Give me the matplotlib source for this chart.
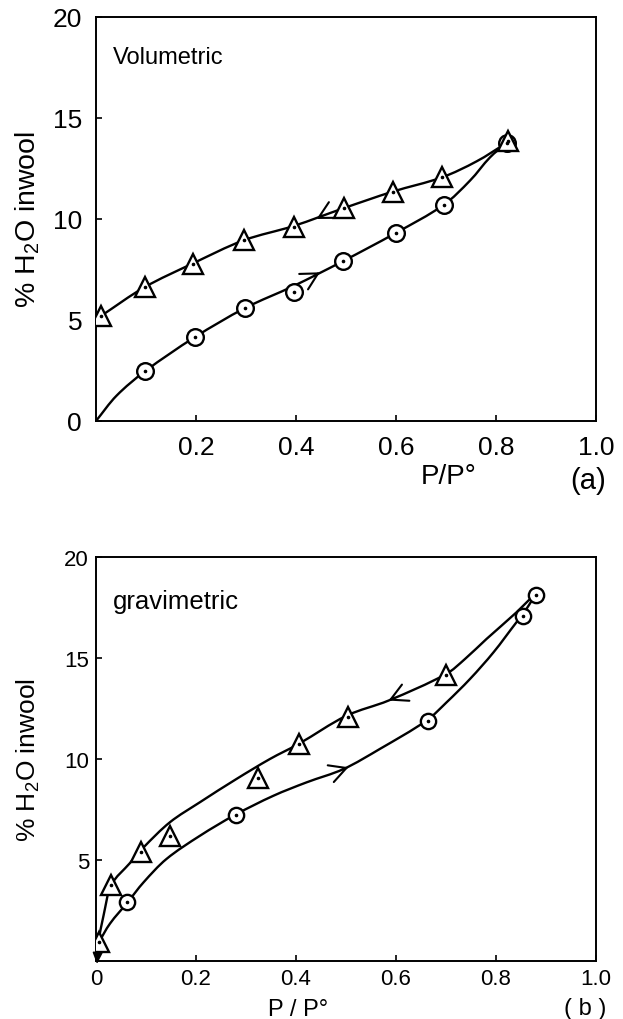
import numpy as np
import matplotlib
matplotlib.use("Agg")
import matplotlib.pyplot as plt
from matplotlib.path import Path
from matplotlib.patches import PathPatch

plt.rcParams['font.family'] = ['Liberation Sans', 'DejaVu Sans']
plt.rcParams['mathtext.fontset'] = 'custom'
plt.rcParams['mathtext.rm'] = 'Liberation Sans'

# ---- panel (a): volumetric ----
a_ads_p = [0.098, 0.197, 0.298, 0.395, 0.493, 0.599, 0.695, 0.821]
a_ads_v = [2.46, 4.14, 5.59, 6.40, 7.90, 9.30, 10.69, 13.76]
a_des_p = [0.010, 0.097, 0.193, 0.295, 0.395, 0.495, 0.593, 0.692, 0.823]
a_des_v = [5.20, 6.62, 7.79, 8.94, 9.59, 10.53, 11.35, 12.06, 13.88]

# curves
a_ads_curve_p = [0.0, 0.041, 0.098, 0.197, 0.298, 0.395, 0.493, 0.599, 0.695, 0.748, 0.788, 0.821]
a_ads_curve_v = [0.0, 1.25, 2.46, 4.14, 5.59, 6.68, 7.90, 9.30, 10.69, 11.90, 13.05, 13.76]
a_des_curve_p = [0.010, 0.097, 0.193, 0.295, 0.395, 0.495, 0.593, 0.692, 0.761, 0.821]
a_des_curve_v = [5.20, 6.62, 7.79, 8.94, 9.65, 10.53, 11.35, 12.06, 12.85, 13.76]

# ---- panel (b): gravimetric ----
b_ads_p = [0.062, 0.279, 0.663, 0.853, 0.879]
b_ads_v = [2.92, 7.23, 11.90, 17.09, 18.14]
b_des_p = [0.005, 0.030, 0.090, 0.148, 0.323, 0.405, 0.503, 0.700]
b_des_v = [0.94, 3.78, 5.41, 6.20, 9.04, 10.74, 12.10, 14.15]

b_ads_curve_p = [0.005, 0.028, 0.063, 0.095, 0.141, 0.208, 0.278, 0.355, 0.421, 0.495,
                 0.568, 0.661, 0.701, 0.748, 0.795, 0.841, 0.853, 0.879]
b_ads_curve_v = [0.90, 1.85, 2.90, 3.89, 5.05, 6.20, 7.23, 8.18, 8.84, 9.50,
                 10.50, 11.90, 12.80, 13.96, 15.28, 16.77, 17.13, 18.14]
b_des_curve_p = [0.004, 0.015, 0.031, 0.068, 0.095, 0.148, 0.208, 0.281, 0.348,
                 0.405, 0.501, 0.585, 0.700, 0.738, 0.781, 0.841, 0.868, 0.879]
b_des_curve_v = [0.90, 2.24, 3.78, 4.85, 5.62, 6.87, 7.86, 9.01, 10.00,
                 10.74, 12.14, 12.89, 14.20, 14.95, 15.94, 17.26, 17.92, 18.14]

# direction arrows: (p, v, +1 right / -1 left)
a_arrows = [(0.441, 10.00, -1), (0.448, 7.36, 1)]
b_arrows = [(0.585, 12.89, -1), (0.505, 9.59, 1)]

y_ticks = [0, 5, 10, 15, 20]
x_ticks = [0.2, 0.4, 0.6, 0.8, 1.0]


def smooth_curve(ax, px, py):
    """Smooth line through traced points: cubic Hermite with chord-length tangents."""
    sx = np.asarray(px) * 500.0
    sy = np.asarray(py) * 20.2
    pts = np.column_stack([sx, sy])
    n = len(pts)
    t = np.concatenate([[0], np.cumsum(np.hypot(np.diff(sx), np.diff(sy)))])
    m = np.zeros_like(pts)
    m[0] = (pts[1] - pts[0]) / (t[1] - t[0])
    m[-1] = (pts[-1] - pts[-2]) / (t[-1] - t[-2])
    for i in range(1, n - 1):
        m[i] = (pts[i + 1] - pts[i - 1]) / (t[i + 1] - t[i - 1])
    verts = [pts[0]]
    codes = [Path.MOVETO]
    for i in range(n - 1):
        h = t[i + 1] - t[i]
        verts += [pts[i] + m[i] * h / 3, pts[i + 1] - m[i + 1] * h / 3, pts[i + 1]]
        codes += [Path.CURVE4] * 3
    verts = np.array(verts) / [500.0, 20.2]
    ax.add_patch(PathPatch(Path(verts, codes), fill=False, lw=1.7, ec='black',
                           capstyle='round', zorder=2))


def arrow(ax, p, v, d, cp, cv):
    tail_p = p - d * 0.012
    tail_v = np.interp(tail_p, cp, cv)
    ax.annotate('', xy=(p, v), xytext=(tail_p, tail_v),
                arrowprops=dict(arrowstyle='->,head_length=0.6,head_width=0.32',
                                lw=1.5, color='black', mutation_scale=20,
                                shrinkA=0, shrinkB=0), zorder=3)


def markers(ax, px, py, marker, size):
    ax.plot(px, py, linestyle='none', marker=marker, ms=size, mfc='white',
            mec='black', mew=1.7, zorder=4)
    ax.plot(px, py, linestyle='none', marker='o', ms=1.6, color='black', zorder=5)


fig = plt.figure(figsize=(6.23, 10.2), dpi=100)
ax_a = fig.add_axes([0.1541, 0.5863, 0.8026, 0.3961])
ax_b = fig.add_axes([0.1541, 0.0569, 0.8026, 0.3961])

# panel a
smooth_curve(ax_a, a_ads_curve_p, a_ads_curve_v)
smooth_curve(ax_a, a_des_curve_p, a_des_curve_v)
arrow(ax_a, *a_arrows[0], a_des_curve_p, a_des_curve_v)
arrow(ax_a, *a_arrows[1], a_ads_curve_p, a_ads_curve_v)
markers(ax_a, a_ads_p, a_ads_v, 'o', 12)
markers(ax_a, a_des_p, a_des_v, '^', 15)
ax_a.text(0.034, 0.9, 'Volumetric', transform=ax_a.transAxes, fontsize=17,
          ha='left', va='center')
ax_a.text(0.705, -0.137, 'P/P°', transform=ax_a.transAxes, fontsize=20,
          ha='center', va='center')
ax_a.text(0.984, -0.146, '(a)', transform=ax_a.transAxes, fontsize=21,
          ha='center', va='center')
ax_a.text(-0.137, 0.5, '% H$_2$O inwool', transform=ax_a.transAxes, fontsize=20.5,
          rotation=90, ha='center', va='center')
ax_a.set_xticks(x_ticks)
ax_a.set_xticklabels(['0.2', '0.4', '0.6', '0.8', '1.0'])
ax_a.set_yticks(y_ticks)
ax_a.tick_params(labelsize=19, pad=10)

# panel b
smooth_curve(ax_b, b_ads_curve_p, b_ads_curve_v)
smooth_curve(ax_b, b_des_curve_p, b_des_curve_v)
arrow(ax_b, *b_arrows[0], b_des_curve_p, b_des_curve_v)
arrow(ax_b, *b_arrows[1], b_ads_curve_p, b_ads_curve_v)
ax_b.annotate('', xy=(0.002, -0.15), xytext=(0.004, 0.7),
              arrowprops=dict(arrowstyle='-|>,head_length=0.45,head_width=0.2',
                              lw=1.2, color='black', mutation_scale=15,
                              shrinkA=0, shrinkB=0), zorder=3,
              annotation_clip=False)
markers(ax_b, b_ads_p, b_ads_v, 'o', 11)
markers(ax_b, b_des_p, b_des_v, '^', 14.5)
ax_b.text(0.034, 0.89, 'gravimetric', transform=ax_b.transAxes, fontsize=18.5,
          ha='left', va='center')
ax_b.text(0.405, -0.12, 'P / P°', transform=ax_b.transAxes, fontsize=17,
          ha='center', va='center')
ax_b.text(0.978, -0.116, '( b )', transform=ax_b.transAxes, fontsize=17,
          ha='center', va='center')
ax_b.text(-0.136, 0.5, '% H$_2$O inwool', transform=ax_b.transAxes, fontsize=19,
          rotation=90, ha='center', va='center')
ax_b.set_xticks([0.0] + x_ticks)
ax_b.set_xticklabels(['0', '0.2', '0.4', '0.6', '0.8', '1.0'])
ax_b.set_yticks(y_ticks[1:])
ax_b.tick_params(labelsize=16, pad=5)

for ax in (ax_a, ax_b):
    ax.set_xlim(0, 1.0)
    ax.set_ylim(0, 20)
    ax.tick_params(direction='in', length=4, width=1.2)
    for s in ax.spines.values():
        s.set_linewidth(1.4)

fig.savefig('out.png', dpi=100)
